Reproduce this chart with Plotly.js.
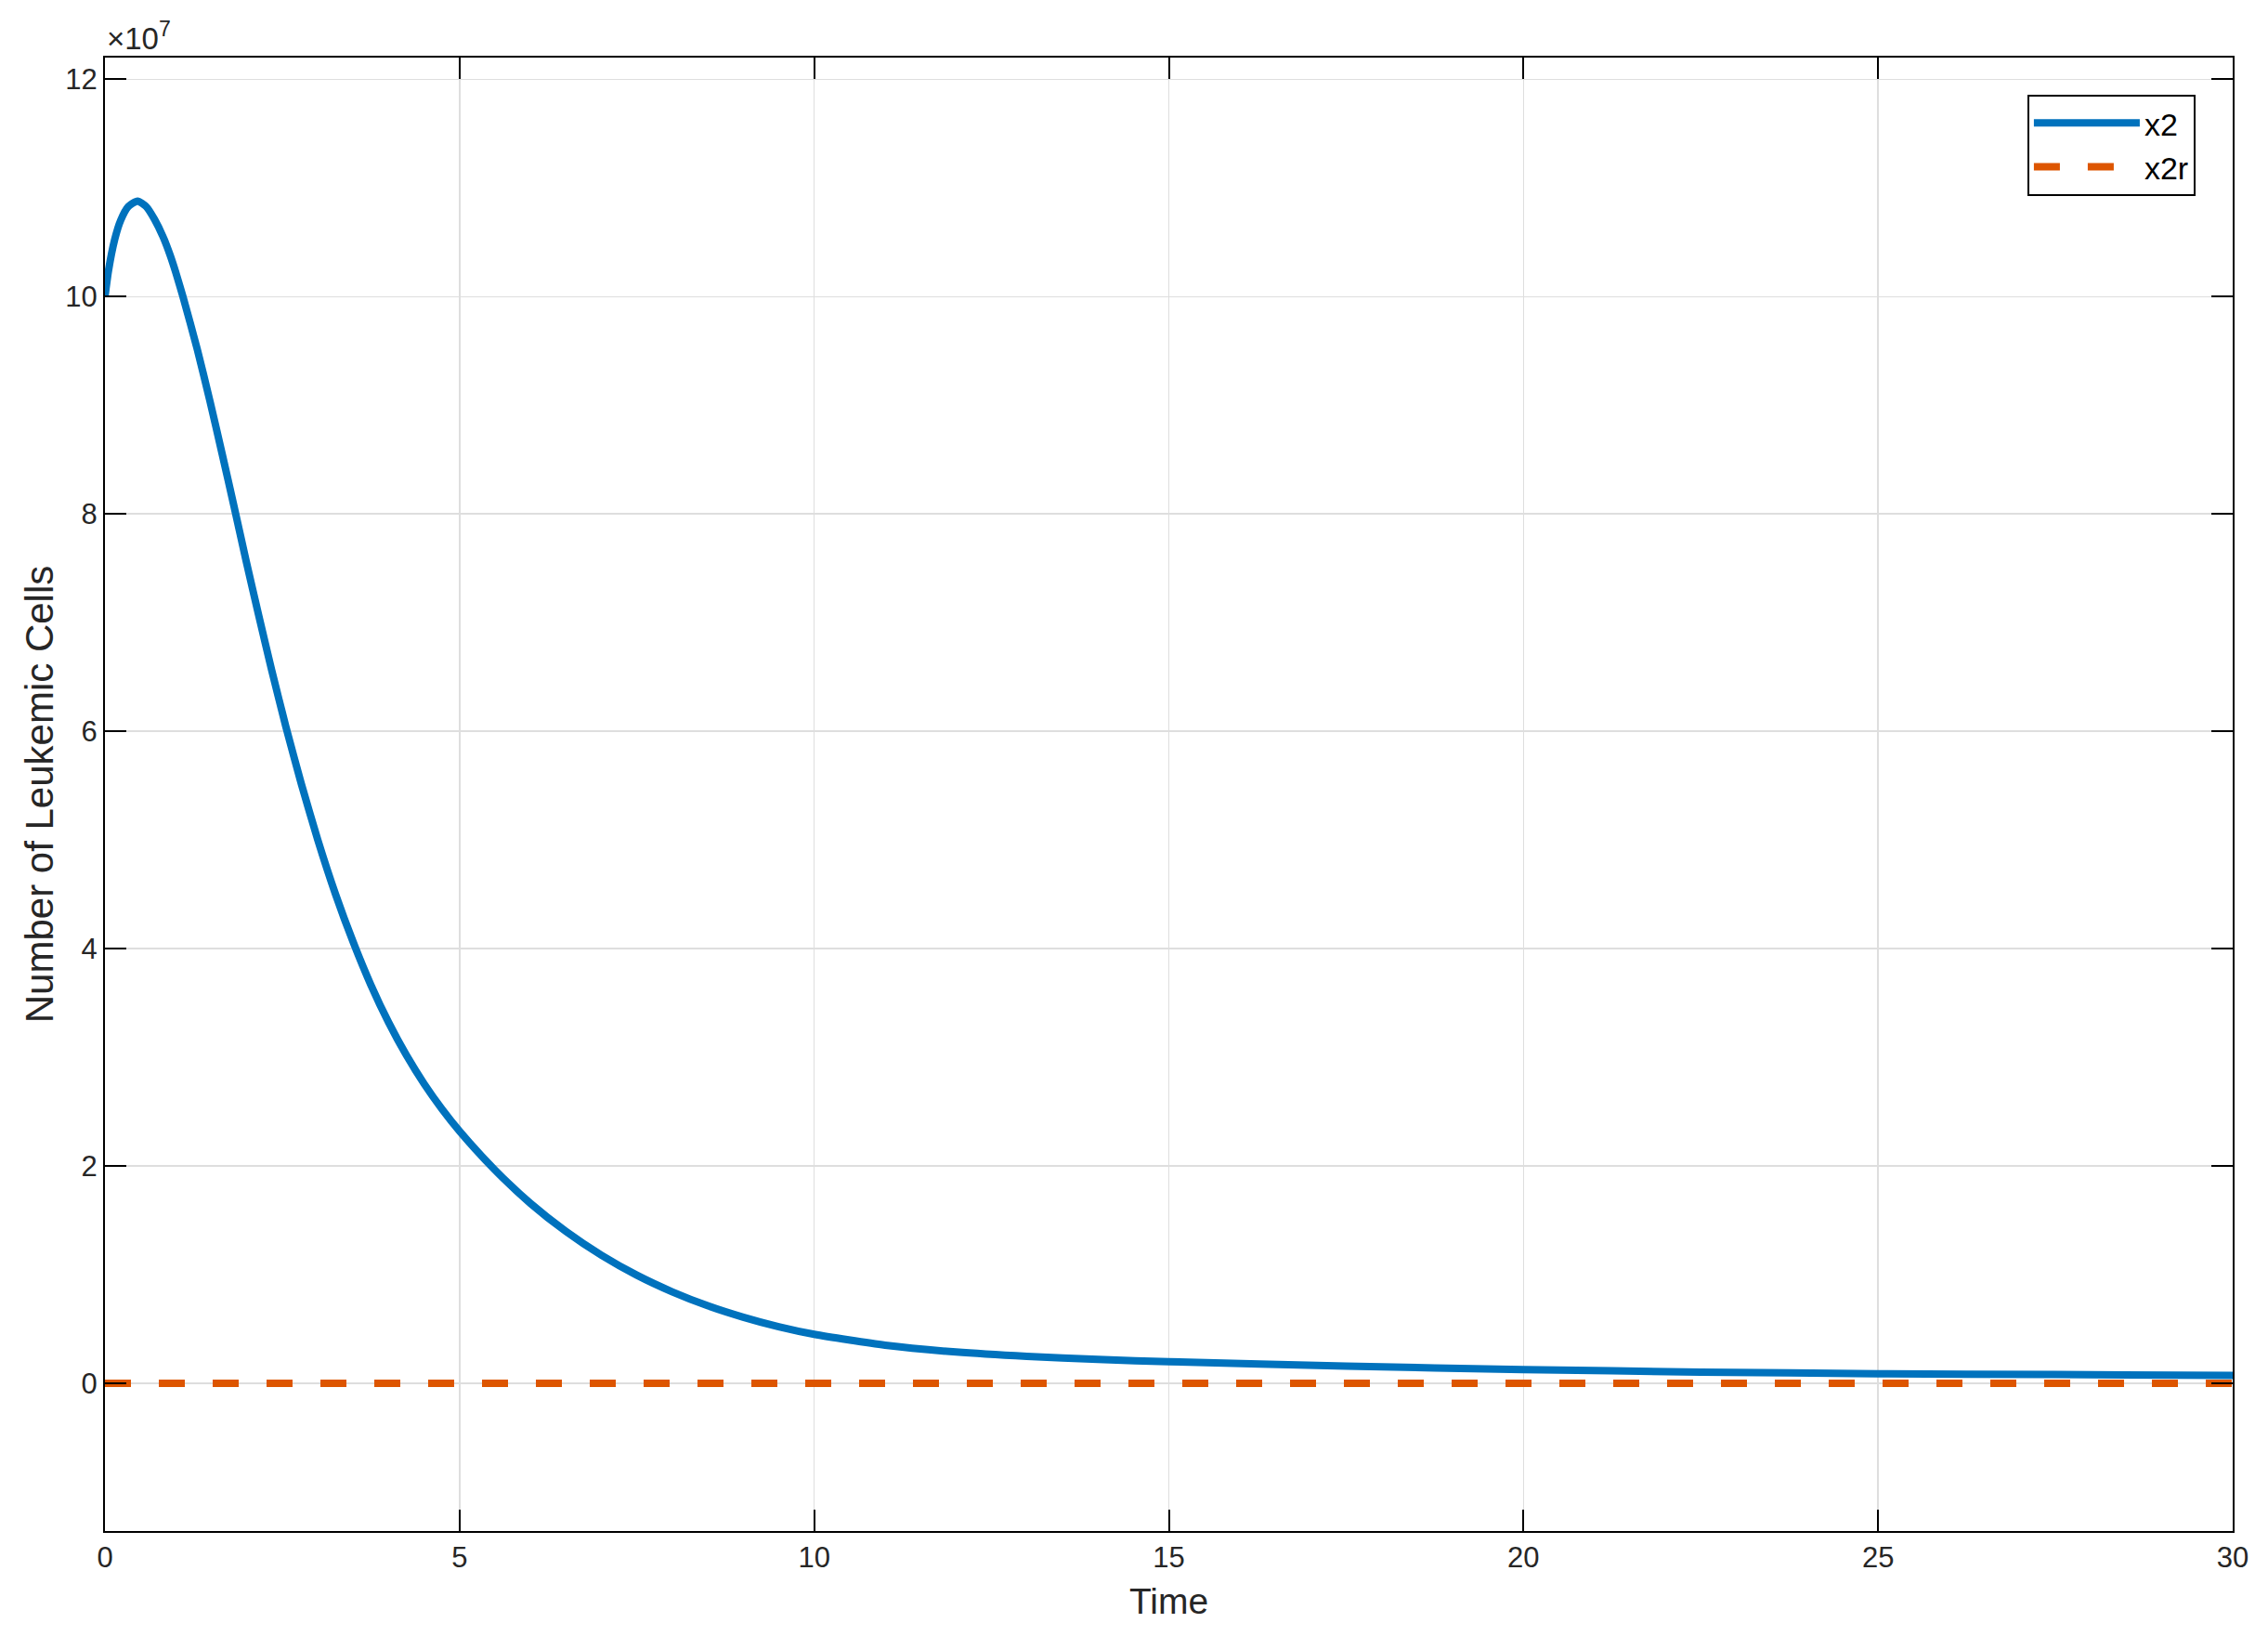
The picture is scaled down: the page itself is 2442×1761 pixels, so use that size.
<!DOCTYPE html>
<html>
<head>
<meta charset="utf-8">
<script src="https://cdn.plot.ly/plotly-3.0.1.min.js"></script>
<style>
  body { margin: 0; background: #fff; }
  #grafico { width: 2442px; height: 1761px; }
</style>
</head>
<body>
<div id="grafico"></div>
<script>
// values (cells; the y axis shows them in units of 10^7)
let tiempo = [0, 0.05, 0.135, 0.22, 0.33, 0.46, 0.58, 0.7, 0.82, 0.92, 1.0, 1.1, 1.3, 1.48, 1.65, 1.82, 1.99, 2.17, 2.35, 2.55, 2.77, 3.0, 3.25, 3.5, 3.75, 4, 4.25, 4.5, 4.75, 5, 5.5, 6, 6.5, 7, 7.5, 8, 8.5, 9, 9.5, 10, 11, 12, 13, 14, 15, 17.5, 20, 22.5, 25, 27.5, 30];
let x2 = [10.0e7, 10.24e7, 10.52e7, 10.70e7, 10.83e7, 10.88e7, 10.83e7, 10.71e7, 10.55e7, 10.38e7, 10.22e7, 10.0e7, 9.52e7, 9.04e7, 8.56e7, 8.07e7, 7.57e7, 7.06e7, 6.565e7, 6.045e7, 5.513e7, 5.002e7, 4.502e7, 4.06e7, 3.665e7, 3.32e7, 3.019e7, 2.756e7, 2.525e7, 2.32e7, 1.962e7, 1.655e7, 1.397e7, 1.178e7, 0.994e7, 0.841e7, 0.713e7, 0.608e7, 0.52e7, 0.45e7, 0.35e7, 0.287e7, 0.247e7, 0.219e7, 0.198e7, 0.158e7, 0.126e7, 0.103e7, 0.088e7, 0.08e7, 0.073e7];
let tiempoR = [0, 5, 10, 15, 20, 25, 30];
let x2r = [0, 0, 0, 0, 0, 0, 0];

let yTicks = [0, 2e7, 4e7, 6e7, 8e7, 10e7, 12e7];
let yTickText = ['0', '2', '4', '6', '8', '10', '12'];
let xTicks = [0, 5, 10, 15, 20, 25, 30];

let serie1 = {
    type: 'scatter',
    mode: 'lines',
    x: tiempo,
    y: x2,
    line: { color: '#0072BD', width: 8, shape: 'spline', smoothing: 0.6 },
    name: 'x2'
};
let serie2 = {
    type: 'scatter',
    mode: 'lines',
    x: tiempoR,
    y: x2r,
    line: { color: '#DD5500', width: 8, dash: '28px,30px' },
    name: 'x2r'
};

let fuente = 'Liberation Sans, Arial, Helvetica, sans-serif';

let eje = {
    showline: true,
    mirror: 'ticks',
    linecolor: '#000',
    linewidth: 2,
    ticks: 'inside',
    ticklen: 23,
    tickwidth: 2,
    tickcolor: '#000',
    showgrid: true,
    gridcolor: '#dedede',
    gridwidth: 1.5,
    zeroline: false,
    tickfont: { family: fuente, size: 31, color: '#262626' }
};

let layout = {
    width: 2442,
    height: 1761,
    margin: { l: 113, r: 38, t: 62, b: 113 },
    paper_bgcolor: '#fff',
    plot_bgcolor: '#fff',
    font: { family: fuente, color: '#262626' },
    showlegend: true,
    xaxis: Object.assign({}, eje, {
        range: [0, 30],
        tickvals: xTicks,
        title: { text: 'Time', font: { family: fuente, size: 39, color: '#262626' }, standoff: 16 }
    }),
    yaxis: Object.assign({}, eje, {
        range: [-1.36e7, 12.2e7],
        tickvals: yTicks,
        ticktext: yTickText,
        title: { text: 'Number of Leukemic Cells', font: { family: fuente, size: 42, color: '#262626' }, standoff: 0 }
    }),
    legend: {
        x: 0.9035,
        y: 0.975,
        xanchor: 'left',
        yanchor: 'top',
        bgcolor: '#fff',
        bordercolor: '#000',
        borderwidth: 2,
        itemwidth: 114,
        font: { family: fuente, size: 34, color: '#000' }
    },
    annotations: [{
        xref: 'paper', yref: 'paper',
        x: 0, y: 1,
        xanchor: 'left', yanchor: 'bottom',
        yshift: 0,
        showarrow: false,
        text: '×10<sup>7</sup>',
        font: { family: fuente, size: 33, color: '#262626' }
    }]
};

Plotly.newPlot('grafico', [serie1, serie2], layout, { staticPlot: true });
</script>
</body>
</html>
